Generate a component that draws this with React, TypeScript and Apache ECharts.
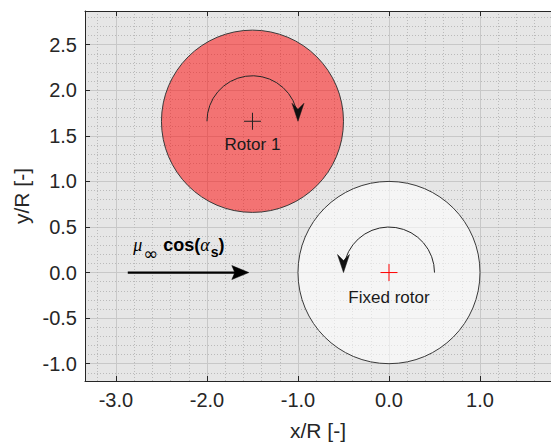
import { useEffect, useRef } from 'react';
import * as echarts from 'echarts';

// ---- data ----
const xExtent = [-3.34, 1.78];
const yExtent = [-1.19, 2.87];
const xMajorStep = 1;
const yMajorStep = 0.5;
const xMinorStep = 0.2;
const yMinorStep = 0.1;

const rotorNames = ['Rotor 1', 'Fixed rotor'];
const rotorCenters = [
  [-1.5, 1.66],
  [0, 0],
];
const rotorRadius = [1, 1];
const rotationRadius = [0.5, 0.5];
const rotationDirection = [1, -1]; // 1 clockwise, -1 counter-clockwise
const rotorLabelY = [1.4, -0.27];
const flowArrowX = [-2.87, -1.54];
const flowArrowY = [0];
const flowLabelPos = [-2.81, 0.4];

const SANS = '"Liberation Sans", Arial, Helvetica, sans-serif';
const SERIF = '"Liberation Serif", "DejaVu Serif", serif';
const TXT = '#262626';
const rotorFills = ['rgba(255,0,0,0.5)', 'rgba(255,255,255,0.6)'];
const centerColors = ['#222222', '#ff0000'];

function baseAxis(min: number, max: number, step: number, span: number) {
  return {
    type: 'value',
    min,
    max,
    splitNumber: Math.round(span / step),
    minInterval: step,
    maxInterval: step,
  };
}

export default function App() {
  const ref = useRef<HTMLDivElement>(null);
  useEffect(() => {
    if (!ref.current) return;
    const chart = echarts.init(ref.current, undefined, { renderer: 'svg' });
    const xSpan = xExtent[1] - xExtent[0];
    const ySpan = yExtent[1] - yExtent[0];
    const fmt = (v: number) => v.toFixed(1);

    const option: any = {
      animation: false,
      backgroundColor: '#ffffff',
      textStyle: { fontFamily: SANS },
      grid: {
        left: 85,
        top: 11,
        right: 0,
        bottom: 64,
        show: true,
        backgroundColor: '#e6e6e6',
        borderWidth: 0,
      },
      xAxis: [
        {
          ...baseAxis(xExtent[0], xExtent[1], xMinorStep, xSpan),
          position: 'bottom',
          axisLine: { show: false, onZero: false },
          axisTick: { show: false },
          axisLabel: { show: false },
          splitLine: { show: true, lineStyle: { color: '#bababa', width: 1, type: [1, 2] } },
        },
        {
          ...baseAxis(xExtent[0], xExtent[1], xMajorStep, xSpan),
          position: 'bottom',
          axisLine: { show: true, onZero: false, lineStyle: { color: TXT, width: 1 } },
          axisTick: { show: true, inside: true, length: 5, lineStyle: { color: TXT } },
          axisLabel: {
            show: true,
            showMinLabel: false,
            showMaxLabel: false,
            fontSize: 20,
            color: TXT,
            fontFamily: SANS,
            margin: 9,
            formatter: fmt,
          },
          splitLine: { show: true, lineStyle: { color: '#c8c8c8', width: 1, type: 'solid' } },
          name: 'x/R [-]',
          nameLocation: 'middle',
          nameGap: 39,
          nameTextStyle: { fontSize: 21, color: TXT, fontFamily: SANS },
        },
        {
          ...baseAxis(xExtent[0], xExtent[1], xMajorStep, xSpan),
          position: 'top',
          axisLine: { show: true, onZero: false, lineStyle: { color: TXT, width: 1 } },
          axisTick: { show: true, inside: true, length: 5, lineStyle: { color: TXT } },
          axisLabel: { show: false },
          splitLine: { show: false },
        },
      ],
      yAxis: [
        {
          ...baseAxis(yExtent[0], yExtent[1], yMinorStep, ySpan),
          position: 'left',
          axisLine: { show: false, onZero: false },
          axisTick: { show: false },
          axisLabel: { show: false },
          splitLine: { show: true, lineStyle: { color: '#bababa', width: 1, type: [1, 2] } },
        },
        {
          ...baseAxis(yExtent[0], yExtent[1], yMajorStep, ySpan),
          position: 'left',
          axisLine: { show: true, onZero: false, lineStyle: { color: TXT, width: 1 } },
          axisTick: { show: true, inside: true, length: 5, lineStyle: { color: TXT } },
          axisLabel: {
            show: true,
            showMinLabel: false,
            showMaxLabel: false,
            fontSize: 20,
            color: TXT,
            fontFamily: SANS,
            margin: 8,
            formatter: fmt,
          },
          splitLine: { show: true, lineStyle: { color: '#c8c8c8', width: 1, type: 'solid' } },
          name: 'y/R [-]',
          nameLocation: 'middle',
          nameGap: 49,
          nameTextStyle: { fontSize: 21, color: TXT, fontFamily: SANS },
        },
      ],
      series: [
        {
          type: 'custom',
          name: 'rotors',
          xAxisIndex: 1,
          yAxisIndex: 1,
          z: 2,
          data: rotorCenters.map((c, i) => [c[0], c[1], rotorRadius[i]]),
          renderItem: (params: any, api: any) => {
            const c = api.coord([api.value(0), api.value(1)]);
            const s = api.size([api.value(2), api.value(2)]);
            return {
              type: 'ellipse',
              shape: { cx: c[0], cy: c[1], rx: s[0], ry: s[1] },
              style: { fill: rotorFills[params.dataIndex], stroke: '#3a3a3a', lineWidth: 1 },
            };
          },
        },
        {
          type: 'custom',
          name: 'rotation',
          xAxisIndex: 1,
          yAxisIndex: 1,
          z: 3,
          data: rotorCenters.map((c, i) => [c[0], c[1], rotationRadius[i], rotationDirection[i]]),
          renderItem: (params: any, api: any) => {
            const x = api.value(0);
            const y = api.value(1);
            const R = api.value(2);
            const dir = api.value(3);
            const c = api.coord([x, y]);
            const r = api.size([R, R])[0];
            const gap = 0.3;
            let arcShape: any;
            let tip: number[];
            if (dir > 0) {
              arcShape = { cx: c[0], cy: c[1], r, startAngle: Math.PI, endAngle: 2 * Math.PI - gap, clockwise: true };
              tip = api.coord([x + R, y]);
            } else {
              arcShape = { cx: c[0], cy: c[1], r, startAngle: 0, endAngle: -(Math.PI - gap), clockwise: false };
              tip = api.coord([x - R, y]);
            }
            const [tx, ty] = tip;
            return {
              type: 'group',
              children: [
                { type: 'arc', shape: arcShape, style: { stroke: '#262626', lineWidth: 1, fill: 'none' } },
                {
                  type: 'polygon',
                  shape: { points: [[tx, ty], [tx - 6, ty - 18], [tx, ty - 12], [tx + 6, ty - 18]] },
                  style: { fill: '#111111', stroke: '#111111', lineWidth: 0.5 },
                },
              ],
            };
          },
        },
        {
          type: 'custom',
          name: 'centers',
          xAxisIndex: 1,
          yAxisIndex: 1,
          z: 4,
          data: rotorCenters.map((c) => [c[0], c[1]]),
          renderItem: (params: any, api: any) => {
            const c = api.coord([api.value(0), api.value(1)]);
            const h = 8.5;
            const col = centerColors[params.dataIndex];
            return {
              type: 'group',
              children: [
                { type: 'line', shape: { x1: c[0] - h, y1: c[1], x2: c[0] + h, y2: c[1] }, style: { stroke: col, lineWidth: 1 } },
                { type: 'line', shape: { x1: c[0], y1: c[1] - h, x2: c[0], y2: c[1] + h }, style: { stroke: col, lineWidth: 1 } },
              ],
            };
          },
        },
        {
          type: 'custom',
          name: 'labels',
          xAxisIndex: 1,
          yAxisIndex: 1,
          z: 5,
          data: rotorCenters.map((c, i) => [c[0], rotorLabelY[i]]),
          renderItem: (params: any, api: any) => {
            const c = api.coord([api.value(0), api.value(1)]);
            return {
              type: 'text',
              x: c[0],
              y: c[1],
              style: {
                text: rotorNames[params.dataIndex],
                fill: '#1a1a1a',
                fontSize: 17,
                fontFamily: SANS,
                align: 'center',
                verticalAlign: 'middle',
              },
            };
          },
        },
        {
          type: 'custom',
          name: 'flow',
          xAxisIndex: 1,
          yAxisIndex: 1,
          z: 5,
          data: [[flowArrowX[0], flowArrowX[1], flowArrowY[0]]],
          renderItem: (params: any, api: any) => {
            const p0 = api.coord([api.value(0), api.value(2)]);
            const p1 = api.coord([api.value(1), api.value(2)]);
            const [tx, ty] = p1;
            return {
              type: 'group',
              children: [
                { type: 'line', shape: { x1: p0[0], y1: p0[1], x2: tx - 13, y2: ty }, style: { stroke: '#000', lineWidth: 2.2 } },
                {
                  type: 'polygon',
                  shape: { points: [[tx, ty], [tx - 17, ty - 7], [tx - 14, ty], [tx - 17, ty + 7]] },
                  style: { fill: '#000', stroke: '#000', lineWidth: 0.5 },
                },
              ],
            };
          },
        },
        {
          type: 'custom',
          name: 'flowLabel',
          xAxisIndex: 1,
          yAxisIndex: 1,
          z: 5,
          data: [[flowLabelPos[0], flowLabelPos[1]]],
          renderItem: (params: any, api: any) => {
            const c = api.coord([api.value(0), api.value(1)]);
            return {
              type: 'text',
              x: c[0],
              y: c[1],
              style: {
                text: '{mu|μ}{sub|∞}{b| cos(}{al|α}{subb|s}{b|)}',
                fill: '#000',
                align: 'left',
                verticalAlign: 'top',
                rich: {
                  mu: { fontSize: 18, fontStyle: 'italic', fontFamily: SERIF, lineHeight: 18, verticalAlign: 'top', fill: '#000' },
                  sub: { fontSize: 18, fontFamily: '"DejaVu Sans", sans-serif', lineHeight: 13, padding: [8, 0, 0, 1], verticalAlign: 'top', fill: '#000' },
                  b: { fontSize: 18, fontWeight: 'bold', fontFamily: SANS, lineHeight: 18, verticalAlign: 'top', fill: '#000' },
                  al: { fontSize: 18, fontStyle: 'italic', fontFamily: SERIF, lineHeight: 18, verticalAlign: 'top', fill: '#000' },
                  subb: { fontSize: 14, fontWeight: 'bold', fontFamily: SANS, lineHeight: 13, padding: [9, 0, 0, 1], verticalAlign: 'top', fill: '#000' },
                },
              },
            };
          },
        },
      ],
    };
    chart.setOption(option);
    return () => chart.dispose();
  }, []);
  return (
    <div
      ref={ref}
      style={{ position: 'absolute', left: 0, top: 0, width: 551, height: 446 }}
    />
  );
}
